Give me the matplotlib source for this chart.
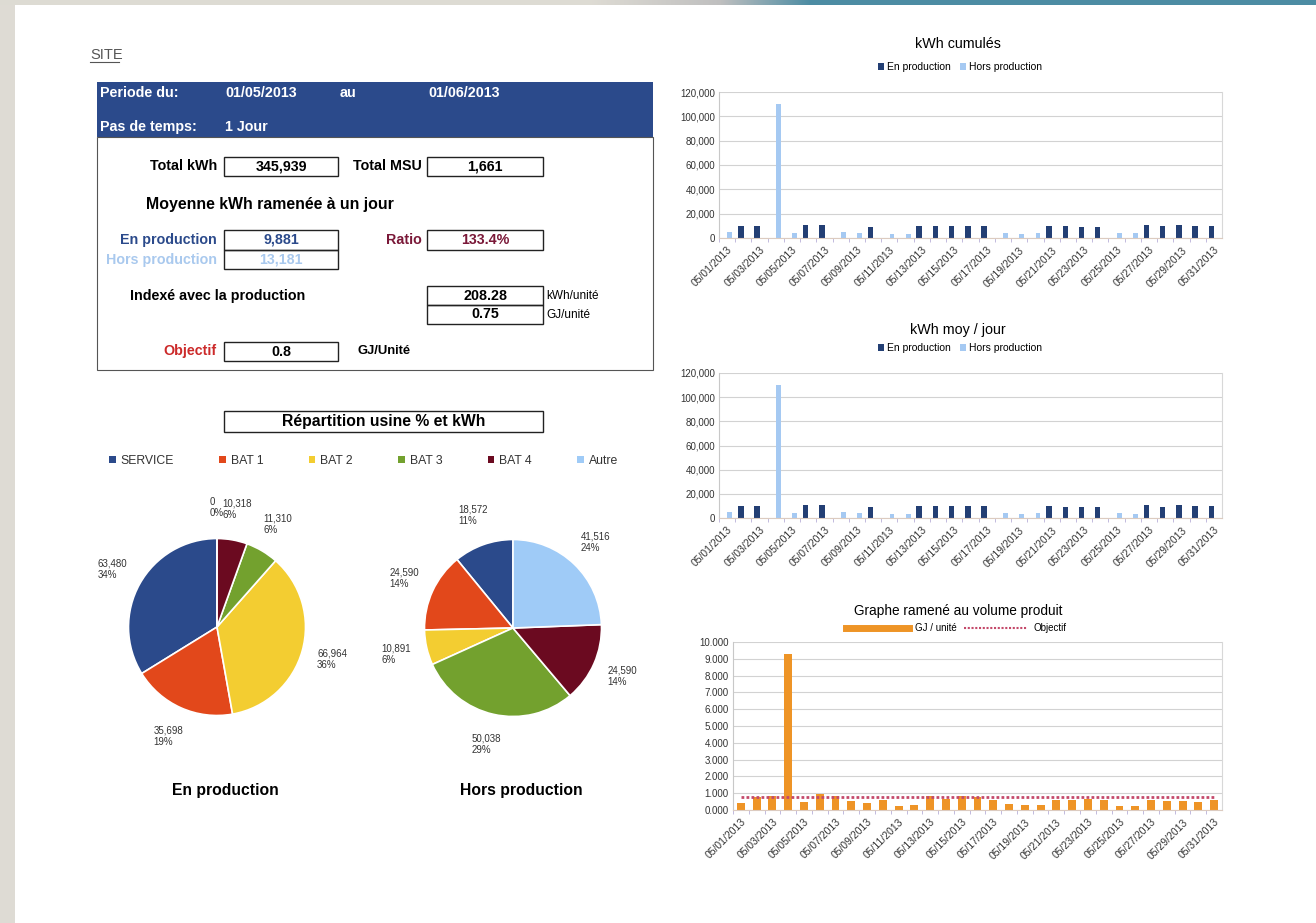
"""Tableau de bord énergie du site : mai 2013."""

import matplotlib
matplotlib.use("Agg")
import matplotlib.pyplot as plt
from matplotlib.patches import Rectangle, Patch
from matplotlib.lines import Line2D
from matplotlib.ticker import FuncFormatter, MultipleLocator
import numpy as np
import pandas as pd

plt.rcParams["font.family"] = ["Liberation Sans", "DejaVu Sans"]

W, H = 1316, 923

# --- data ---
days = pd.date_range("2013-05-01", "2013-05-31", freq="D")
day_labels = [d.strftime("%m/%d/%Y") for d in days]

en_prod = [0, 10000, 9800, 0, 0, 10800, 10800, 0, 0, 9300, 0, 0, 10000, 10000,
           10000, 10000, 9800, 0, 0, 0, 9800, 9500, 9000, 8800, 0, 0, 10700,
           9500, 10500, 10000, 10000]
hors_prod = [4800, 0, 0, 110000, 4000, 0, 0, 5000, 4500, 0, 3500, 3500, 0, 0,
             0, 0, 0, 3800, 3500, 4200, 0, 0, 0, 0, 3800, 3700, 0, 0, 0, 0, 0]
en_prod_moy = en_prod
hors_prod_moy = hors_prod

gj_unite = [0.40, 0.80, 0.86, 9.27, 0.46, 0.96, 0.82, 0.54, 0.44, 0.60, 0.26,
            0.30, 0.82, 0.66, 0.82, 0.80, 0.62, 0.34, 0.28, 0.28, 0.58, 0.62,
            0.68, 0.58, 0.24, 0.22, 0.60, 0.52, 0.55, 0.48, 0.62]
objectif = 0.8

zones = ["SERVICE", "BAT 1", "BAT 2", "BAT 3", "BAT 4", "Autre"]
zone_colors = ["#2b4a8b", "#e2481b", "#f3cd31", "#73a12e", "#6b0a20", "#9fcbf7"]
kwh_en_prod = [63480, 35698, 66964, 11310, 10318, 0]
pct_en_prod = ["34%", "19%", "36%", "6%", "6%", "0%"]
kwh_hors_prod = [18572, 24590, 10891, 50038, 24590, 41516]
pct_hors_prod = ["11%", "14%", "6%", "29%", "14%", "24%"]

C_DARK = "#233f74"
C_LIGHT = "#a5c9f2"
C_ORANGE = "#ee9426"
C_OBJ = "#c4496a"


def fig_rect(x0, y0, x1, y1):
    """Pixel box (top-left origin) -> figure fraction rect."""
    return [x0 / W, 1 - y1 / H, (x1 - x0) / W, (y1 - y0) / H]


def fpos(x, y):
    return x / W, 1 - y / H


fig = plt.figure(figsize=(W / 100, H / 100), dpi=100, facecolor="#dedbd4")

# page background (screenshot frame)
bg = fig.add_axes([0, 0, 1, 1], zorder=-5)
bg.set_xlim(0, W)
bg.set_ylim(H, 0)
bg.axis("off")
strip_x = np.arange(W)
strip = np.ones((1, W, 3))
for i, (a, b) in enumerate(zip((0.87, 0.86, 0.83), (0.30, 0.55, 0.64))):
    strip[0, :, i] = np.interp(strip_x, [0, 590, 720, 810, W], [a, a, 0.75, b, b])
bg.imshow(strip, extent=(0, W, 5, 0), aspect="auto")
bg.add_patch(Rectangle((15, 5), W - 15, H - 5, color="white", lw=0))

# --- left panel: summary table ---
bg.text(90, 55, "SITE", fontsize=10.5, color="#555555", va="center")
bg.plot([90, 119], [62, 62], color="#555555", lw=0.8)

bg.add_patch(Rectangle((97, 82), 556, 55, color="#2b4a8b", lw=0))
bg.add_patch(Rectangle((97, 137), 556, 233, fill=False, ec="#555555", lw=0.8))
hdr = dict(color="white", fontsize=10.3, fontweight="bold", va="center")
bg.text(100, 93, "Periode du:", **hdr)
bg.text(225, 93, "01/05/2013", **hdr)
bg.text(340, 93, "au", **hdr)
bg.text(428, 93, "01/06/2013", **hdr)
bg.text(100, 127, "Pas de temps:", **hdr)
bg.text(225, 127, "1 Jour", **hdr)


def value_box(x0, y0, x1, y1, text, color="black", size=10.3):
    bg.add_patch(Rectangle((x0, y0), x1 - x0, y1 - y0, fill=False, ec="#222222", lw=1))
    bg.text((x0 + x1) / 2, (y0 + y1) / 2, text, ha="center", va="center",
            fontsize=size, fontweight="bold", color=color)


lbl = dict(fontsize=10.3, fontweight="bold", va="center")
bg.text(217, 166, "Total kWh", ha="right", **lbl)
value_box(224, 157, 338, 176, "345,939")
bg.text(422, 166, "Total MSU", ha="right", **lbl)
value_box(427, 157, 543, 176, "1,661")

bg.text(146, 204, "Moyenne kWh ramenée à un jour", fontsize=11.4, fontweight="bold", va="center")

bg.text(217, 240, "En production", ha="right", color="#2b4a8b", **lbl)
value_box(224, 230, 338, 250, "9,881", color="#2b4a8b")
bg.text(217, 260, "Hors production", ha="right", color="#a9c9ee", **lbl)
value_box(224, 250, 338, 269, "13,181", color="#a9c9ee")
bg.text(422, 240, "Ratio", ha="right", color="#7a1838", **lbl)
value_box(427, 230, 543, 250, "133.4%", color="#7a1838")

bg.text(130, 296, "Indexé avec la production", **lbl)
value_box(427, 286, 543, 305, "208.28")
value_box(427, 305, 543, 324, "0.75")
bg.text(546, 296, "kWh/unité", fontsize=8.5, va="center")
bg.text(546, 315, "GJ/unité", fontsize=8.5, va="center")

bg.text(217, 351, "Objectif", ha="right", color="#cc2a2a", **lbl)
value_box(224, 342, 338, 361, "0.8")
bg.text(357, 351, "GJ/Unité", fontsize=9.4, fontweight="bold", va="center")

value_box(224, 411, 543, 432, "Répartition usine % et kWh", size=11.3)

# --- pies ---
handles = [Patch(facecolor=c, label=z) for z, c in zip(zones, zone_colors)]
fig.legend(handles=handles, loc="center left", bbox_to_anchor=fpos(98, 461),
           ncol=6, frameon=False, fontsize=8.8, handlelength=0.55, handleheight=0.55,
           handletextpad=0.4, columnspacing=3.7, labelcolor="#333333")


def draw_pie(cx, cy, values, pcts, title):
    r = 88.5
    ax = fig.add_axes(fig_rect(cx - 1.5 * r, cy - 1.5 * r, cx + 1.5 * r, cy + 1.5 * r))
    wedges, _ = ax.pie(values, colors=zone_colors, startangle=90, counterclock=True,
                       wedgeprops=dict(edgecolor="white", linewidth=1.2))
    for w, v, p in zip(wedges, values, pcts):
        ang = np.deg2rad((w.theta1 + w.theta2) / 2)
        ax.text(1.35 * np.cos(ang), 1.35 * np.sin(ang), f"{v:,}\n{p}",
                ha="center", va="center", multialignment="left",
                fontsize=7, color="#333333")
    ax.set_xlim(-1.5, 1.5)
    ax.set_ylim(-1.5, 1.5)
    ax.set_aspect("equal")
    bg.text(cx + 8, 790, title, ha="center", va="center", fontsize=11.3, fontweight="bold")


draw_pie(217, 627, kwh_en_prod, pct_en_prod, "En production")
draw_pie(513, 628, kwh_hors_prod, pct_hors_prod, "Hors production")

# --- right column: daily bar charts ---
x = np.arange(len(days))


def style_axis(ax):
    ax.set_xlim(-0.5, len(days) - 0.5)
    ax.yaxis.grid(True, color="#d2d2d2", lw=0.8)
    ax.set_axisbelow(True)
    ax.spines["top"].set_visible(False)
    ax.spines["left"].set_color("#c8c8c8")
    ax.spines["right"].set_color("#d8d8d8")
    ax.spines["bottom"].set_color("#dccbc0")
    ax.tick_params(axis="y", length=0, labelsize=7, labelcolor="#333333", pad=3)
    ax.set_xticks(x[::2])
    ax.set_xticklabels(day_labels[::2], rotation=45, ha="right",
                       rotation_mode="anchor", fontsize=7.5, color="#333333")
    ax.set_xticks(x - 0.5, minor=True)
    ax.tick_params(axis="x", which="major", length=0, pad=5)
    ax.tick_params(axis="x", which="minor", length=3, color="#b8b0d8")


def kwh_chart(rect, en, hors, title, title_y, legend_y):
    ax = fig.add_axes(fig_rect(*rect))
    ax.bar(x - 0.16, en, width=0.34, color=C_DARK, label="En production")
    ax.bar(x + 0.16, hors, width=0.30, color=C_LIGHT, label="Hors production")
    ax.set_ylim(0, 120000)
    ax.yaxis.set_major_locator(MultipleLocator(20000))
    ax.yaxis.set_major_formatter(FuncFormatter(lambda v, _: f"{v:,.0f}"))
    style_axis(ax)
    fig.text(*fpos(958, title_y), title, ha="center", va="center", fontsize=10.3)
    ax.legend(loc="center", bbox_to_anchor=fpos(960, legend_y), bbox_transform=fig.transFigure,
              ncol=2, frameon=False, fontsize=7.5, handlelength=0.6, handleheight=0.6,
              handletextpad=0.3, columnspacing=0.8)
    return ax


kwh_chart((719, 92, 1222, 238), en_prod, hors_prod, "kWh cumulés", 44, 67)
kwh_chart((719, 373, 1222, 518), en_prod_moy, hors_prod_moy, "kWh moy / jour", 330, 348)

ax3 = fig.add_axes(fig_rect(733, 642, 1222, 810))
ax3.bar(x, gj_unite, width=0.5, color=C_ORANGE)
ax3.plot([x[0], x[-1]], [objectif, objectif], color=C_OBJ, lw=2, linestyle=(0, (1, 0.8)))
ax3.set_ylim(0, 10)
ax3.yaxis.set_major_locator(MultipleLocator(1))
ax3.yaxis.set_major_formatter(FuncFormatter(lambda v, _: f"{v:.3f}"))
style_axis(ax3)
fig.text(*fpos(958, 611), "Graphe ramené au volume produit", ha="center", va="center", fontsize=9.8)
ax3.legend(handles=[Line2D([], [], color=C_ORANGE, lw=5, label="GJ / unité"),
                    Line2D([], [], color=C_OBJ, lw=1.5, linestyle=(0, (1, 0.8)), label="Objectif")],
           loc="center", bbox_to_anchor=fpos(956, 628), bbox_transform=fig.transFigure,
           ncol=2, frameon=False, fontsize=7, handlelength=6.5, handletextpad=0.6,
           columnspacing=0.8)

fig.savefig("out.png", dpi=100, facecolor=fig.get_facecolor())
